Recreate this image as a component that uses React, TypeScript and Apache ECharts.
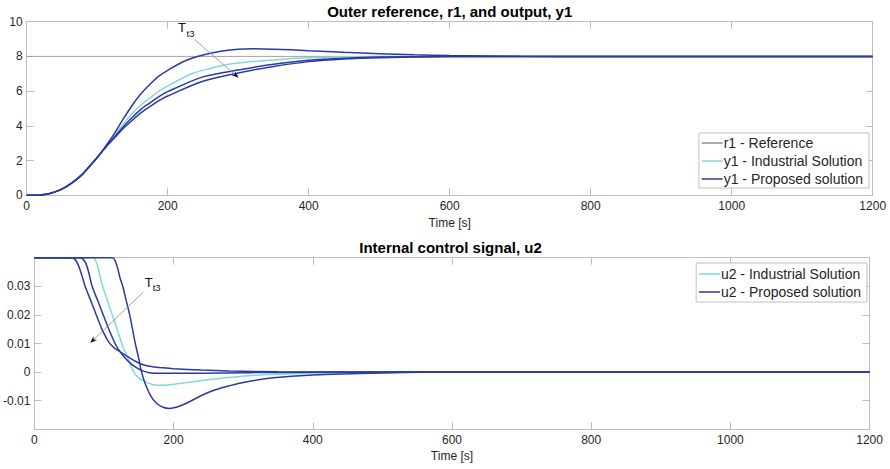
import React, { useEffect, useRef } from "react";
import * as echarts from "echarts";

type Pt = [number, number];

// ---------- Data ----------
const TIME_MIN = 0;
const TIME_MAX = 1200;
const TIME_STEP = 200;

const Y1_MIN = 0;
const Y1_MAX = 10;
const Y1_STEP = 2;

const U2_MIN = -0.02;
const U2_MAX = 0.04;
const U2_STEP = 0.01;

const r1Reference: Pt[] = [[0, 8], [1200, 8]];

// common start of all y1 responses
const y1CommonRise: Pt[] = [
  [0, 0], [15, 0], [25, 0.04], [35, 0.13], [45, 0.27], [55, 0.47], [68, 0.83],
  [80, 1.25], [92, 1.8], [100, 2.18], [106, 2.48],
];

const y1IndustrialTail: Pt[] = [
  [112, 2.8], [125, 3.45], [137, 4.1], [150, 4.72], [162, 5.2], [175, 5.6], [187, 5.98],
  [200, 6.3], [234, 7.0], [260, 7.3], [281, 7.5], [300, 7.62], [350, 7.8], [400, 7.92],
  [450, 7.97], [500, 8.0], [600, 8.0], [1200, 8],
];
const y1ProposedFastTail: Pt[] = [
  [112, 2.83], [125, 3.6], [137, 4.4], [150, 5.2], [162, 5.85], [175, 6.4], [187, 6.85],
  [200, 7.2], [225, 7.75], [250, 8.08], [275, 8.3], [300, 8.41], [320, 8.44], [350, 8.42],
  [400, 8.33], [450, 8.24], [500, 8.16], [550, 8.09], [600, 8.05], [700, 8.01], [800, 8.0],
  [1200, 8],
];
const y1ProposedMidTail: Pt[] = [
  [112, 2.78], [125, 3.38], [137, 3.95], [150, 4.5], [162, 4.95], [175, 5.33], [187, 5.67],
  [200, 5.97], [250, 6.82], [300, 7.22], [350, 7.55], [400, 7.78], [450, 7.9], [500, 7.96],
  [600, 8.0], [1200, 8],
];
const y1ProposedSlowTail: Pt[] = [
  [112, 2.76], [125, 3.33], [137, 3.85], [150, 4.33], [162, 4.75], [175, 5.12], [187, 5.44],
  [200, 5.72], [250, 6.57], [300, 7.05], [350, 7.42], [400, 7.7], [450, 7.85], [500, 7.93],
  [600, 7.99], [700, 8.0], [1200, 8],
];

const u2Industrial: Pt[] = [
  [0, 0.04], [83, 0.04], [87, 0.0395], [91, 0.037], [94, 0.034], [98, 0.03], [105, 0.025],
  [112, 0.02], [119, 0.015], [125.5, 0.01], [134, 0.005], [143, 0], [150, -0.002],
  [160, -0.0035], [170, -0.0043], [180, -0.0046], [195, -0.0044], [220, -0.0036],
  [250, -0.0027], [280, -0.0019], [320, -0.0011], [370, -0.0006], [420, -0.0003],
  [500, -0.0001], [600, 0], [1200, 0],
];
const u2ProposedFast: Pt[] = [
  [0, 0.04], [112, 0.04], [116, 0.039], [120, 0.036], [123, 0.033], [127, 0.03], [132, 0.025],
  [137, 0.02], [141, 0.015], [145, 0.01], [150, 0.0048], [154, 0], [160, -0.0045],
  [167, -0.0082], [175, -0.0108], [185, -0.0123], [194, -0.0127], [205, -0.0122],
  [220, -0.0107], [240, -0.0082], [260, -0.0062], [280, -0.0048], [300, -0.0036],
  [340, -0.0021], [400, -0.001], [500, -0.0003], [600, 0], [1200, 0],
];
const u2ProposedMid: Pt[] = [
  [0, 0.04], [65, 0.04], [70, 0.0395], [74, 0.038], [78, 0.035], [83, 0.03], [91, 0.025],
  [99, 0.02], [107, 0.015], [116, 0.01], [122, 0.0075], [130, 0.005], [137, 0.0033],
  [145, 0.0018], [155, 0.0005], [165, -0.0002], [180, -0.0004], [220, -0.0004],
  [270, -0.0003], [350, -0.0001], [450, 0], [1200, 0],
];
const u2ProposedSlow: Pt[] = [
  [0, 0.04], [53, 0.04], [58, 0.0395], [63, 0.0375], [68, 0.034], [73, 0.03], [81, 0.025],
  [89, 0.02], [98, 0.0145], [107, 0.0105], [114, 0.0086], [122, 0.0073], [130, 0.006],
  [137, 0.005], [145, 0.0038], [156, 0.0026], [170, 0.0019], [185, 0.0015], [200, 0.0012],
  [240, 0.0007], [280, 0.0004], [350, 0.0001], [450, 0], [1200, 0],
];

// annotation "T_t3" arrows, in data units
const annotTopArrow: Pt[] = [[238.7, 8.95], [300.7, 6.77]];
const annotTopT: Pt = [220.3, 9.69];
const annotTopSub: Pt = [232.3, 9.33];
const annotBottomArrow: Pt[] = [[156.6, 0.028], [80.2, 0.0102]];
const annotBottomT: Pt = [164.2, 0.0313];
const annotBottomSub: Pt = [175.7, 0.0296];

const TITLE_TOP = "Outer reference, r1, and output, y1";
const TITLE_BOTTOM = "Internal control signal, u2";
const X_NAME = "Time [s]";

// ---------- Style ----------
const FONT = "'Liberation Sans', Arial, Helvetica, sans-serif";
const AXIS_GRAY = "#bdbdbd";
const LABEL_COLOR = "#262626";
const CYAN = "#80dad6";
const BLUE = "#2b3aa3";
const REF_GRAY = "#8c8c8c";

const W = 890;
const H = 469;

function makeX(gridIndex: number, top: boolean, nameGap: number) {
  return {
    type: "value",
    gridIndex,
    position: top ? "top" : "bottom",
    min: TIME_MIN,
    max: TIME_MAX,
    interval: TIME_STEP,
    name: top ? "" : X_NAME,
    nameLocation: "middle",
    nameGap,
    nameTextStyle: { fontFamily: FONT, fontSize: 12, color: LABEL_COLOR },
    axisLine: { show: true, onZero: false, lineStyle: { color: AXIS_GRAY, width: 1 } },
    axisTick: { show: true, inside: true, length: 7, lineStyle: { color: AXIS_GRAY } },
    axisLabel: {
      show: !top,
      margin: 5,
      fontFamily: FONT,
      fontSize: 12,
      color: LABEL_COLOR,
      formatter: (v: number) => String(v),
    },
    splitLine: { show: false },
  };
}

function makeY(gridIndex: number, right: boolean, min: number, max: number, step: number, hideEnds: boolean) {
  return {
    type: "value",
    gridIndex,
    position: right ? "right" : "left",
    min,
    max,
    interval: step,
    axisLine: { show: true, onZero: false, lineStyle: { color: AXIS_GRAY, width: 1 } },
    axisTick: { show: true, inside: true, length: 7, lineStyle: { color: AXIS_GRAY } },
    axisLabel: {
      show: !right,
      margin: 4,
      fontFamily: FONT,
      fontSize: 12,
      color: LABEL_COLOR,
      showMinLabel: !hideEnds,
      showMaxLabel: !hideEnds,
      formatter: (v: number) => String(+v.toFixed(4)),
    },
    splitLine: { show: false },
  };
}

function line(name: string, data: Pt[], color: string, width: number, axisIdx: number, z: number) {
  return {
    type: "line",
    name,
    data,
    xAxisIndex: axisIdx,
    yAxisIndex: axisIdx,
    symbol: "none",
    showSymbol: false,
    smooth: 0.3,
    lineStyle: { color, width },
    itemStyle: { color },
    z,
  };
}

export default function App() {
  const ref = useRef<HTMLDivElement>(null);

  useEffect(() => {
    if (!ref.current) return;
    const chart = echarts.init(ref.current, undefined, { renderer: "svg", width: W, height: H });

    const gridTop = { left: 26.7, right: W - 872.7, top: 21.7, height: 173.6 };
    const gridBot = { left: 31.3, right: W - 869.6, top: 257.7, height: 171.6 };

    const legendCommon = {
      orient: "vertical",
      backgroundColor: "#ffffff",
      borderColor: "#bfbfbf",
      borderWidth: 1,
      borderRadius: 0,
      itemWidth: 21,
      itemHeight: 14,
      itemGap: 4,
      selectedMode: false,
      itemStyle: { opacity: 0 },
      lineStyle: { width: 1.5 },
      textStyle: { fontFamily: FONT, fontSize: 14, color: LABEL_COLOR, padding: [0, 0, 0, -4] },
    };

    chart.setOption({
      animation: false,
      backgroundColor: "#ffffff",
      title: [
        {
          text: TITLE_TOP,
          left: 449.7,
          top: 4,
          textAlign: "center",
          padding: 0,
          textStyle: { fontFamily: FONT, fontSize: 15, fontWeight: "bold", color: "#000" },
        },
        {
          text: TITLE_BOTTOM,
          left: 450.5,
          top: 239.5,
          textAlign: "center",
          padding: 0,
          textStyle: { fontFamily: FONT, fontSize: 15, fontWeight: "bold", color: "#000" },
        },
      ],
      legend: [
        {
          ...legendCommon,
          right: 21,
          top: 133,
          padding: [3, 6, 2, 2],
          data: ["r1 - Reference", "y1 - Industrial Solution", "y1 - Proposed solution"],
        },
        {
          ...legendCommon,
          right: 23,
          top: 263,
          padding: [4, 6, 3, 2],
          data: ["u2 - Industrial Solution", "u2 - Proposed solution"],
        },
      ],
      grid: [gridTop, gridBot],
      xAxis: [makeX(0, false, 22), makeX(0, true, 0), makeX(1, false, 21), makeX(1, true, 0)],
      yAxis: [
        makeY(0, false, Y1_MIN, Y1_MAX, Y1_STEP, false),
        makeY(0, true, Y1_MIN, Y1_MAX, Y1_STEP, false),
        makeY(1, false, U2_MIN, U2_MAX, U2_STEP, true),
        makeY(1, true, U2_MIN, U2_MAX, U2_STEP, true),
      ],
      series: [
        { ...line("r1 - Reference", r1Reference, REF_GRAY, 0.8, 0, 1), smooth: false },
        line("y1 - Industrial Solution", [...y1CommonRise, ...y1IndustrialTail], CYAN, 1.5, 0, 2),
        line("y1 - Proposed solution", [...y1CommonRise, ...y1ProposedFastTail], BLUE, 1.5, 0, 3),
        line("y1 - Proposed solution", [...y1CommonRise, ...y1ProposedMidTail], BLUE, 1.5, 0, 3),
        line("y1 - Proposed solution", [...y1CommonRise, ...y1ProposedSlowTail], BLUE, 1.5, 0, 3),
        line("u2 - Industrial Solution", u2Industrial, CYAN, 1.5, 2, 2),
        line("u2 - Proposed solution", u2ProposedFast, BLUE, 1.5, 2, 3),
        line("u2 - Proposed solution", u2ProposedMid, BLUE, 1.5, 2, 3),
        line("u2 - Proposed solution", u2ProposedSlow, BLUE, 1.5, 2, 3),
      ],
    });

    // annotations positioned through the axes' scales
    const toPx = (axisIdx: number, p: Pt): number[] =>
      chart.convertToPixel({ xAxisIndex: axisIdx, yAxisIndex: axisIdx }, p) as number[];

    const arrow = (axisIdx: number, seg: Pt[]) => {
      const s = toPx(axisIdx, seg[0]);
      const e = toPx(axisIdx, seg[1]);
      const dx = e[0] - s[0];
      const dy = e[1] - s[1];
      const len = Math.hypot(dx, dy);
      const ux = dx / len;
      const uy = dy / len;
      const L = 7;
      const Wd = 2.6;
      const bx = e[0] - ux * L;
      const by = e[1] - uy * L;
      const nx = -uy;
      const ny = ux;
      return [
        {
          type: "line",
          shape: { x1: s[0], y1: s[1], x2: bx + ux * 2, y2: by + uy * 2 },
          style: { stroke: "#8a8a8a", lineWidth: 0.8 },
          z: 10,
        },
        {
          type: "polygon",
          shape: {
            points: [
              [e[0], e[1]],
              [bx + nx * Wd, by + ny * Wd],
              [e[0] - ux * L * 0.7, e[1] - uy * L * 0.7],
              [bx - nx * Wd, by - ny * Wd],
            ],
          },
          style: { fill: "#111" },
          z: 11,
        },
      ];
    };

    const label = (axisIdx: number, p: Pt, text: string, size: number) => {
      const q = toPx(axisIdx, p);
      return {
        type: "text",
        x: q[0],
        y: q[1],
        z: 12,
        style: {
          text,
          fill: "#111",
          fontFamily: FONT,
          fontSize: size,
          align: "center",
          verticalAlign: "middle",
          textAlign: "center",
          textVerticalAlign: "middle",
        },
      };
    };

    chart.setOption({
      graphic: [
        ...arrow(0, annotTopArrow),
        label(0, annotTopT, "T", 13),
        label(0, annotTopSub, "t3", 9.5),
        ...arrow(2, annotBottomArrow),
        label(2, annotBottomT, "T", 13),
        label(2, annotBottomSub, "t3", 9.5),
      ],
    });

    return () => {
      chart.dispose();
    };
  }, []);

  return (
    <div
      ref={ref}
      style={{ position: "fixed", left: 0, top: 0, width: W, height: H, background: "#fff" }}
    />
  );
}
